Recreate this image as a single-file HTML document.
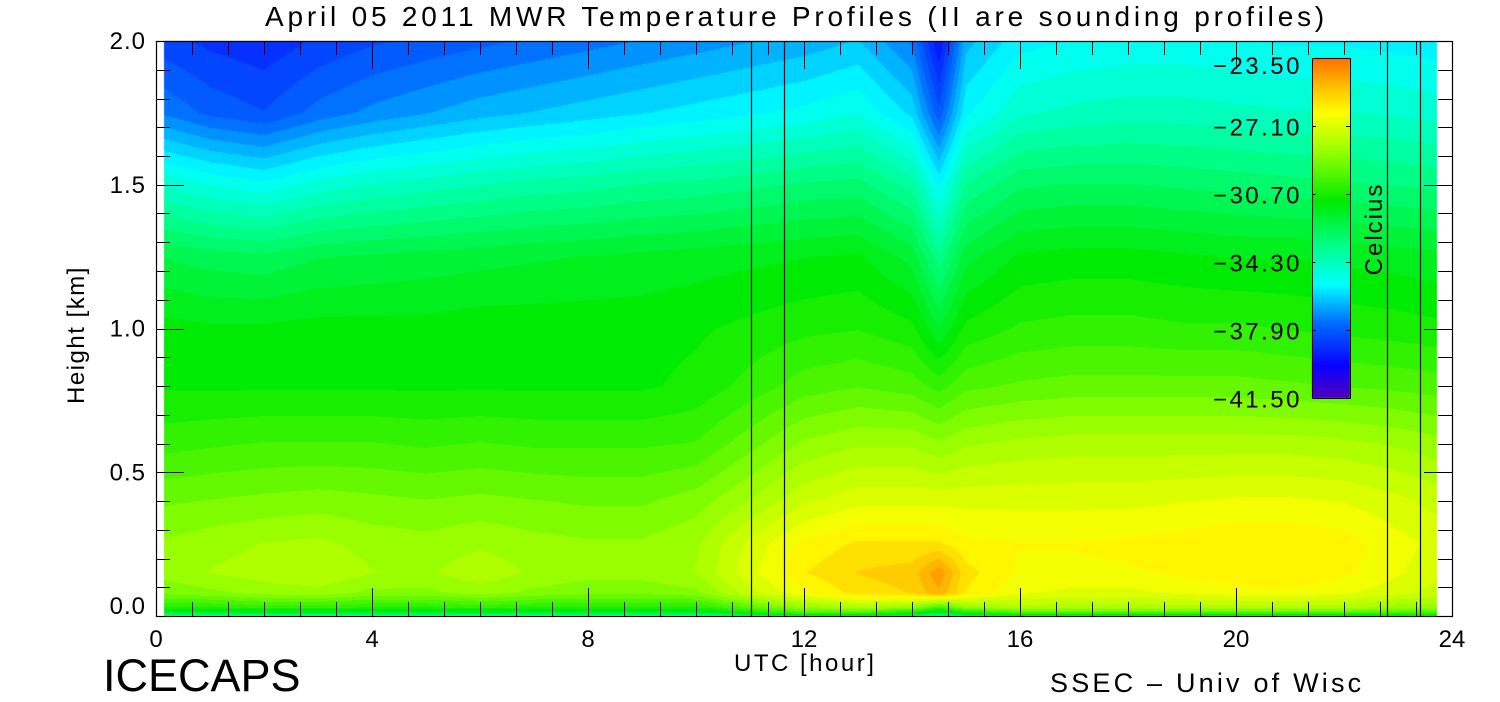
<!DOCTYPE html>
<html><head><meta charset="utf-8"><style>
html,body{margin:0;padding:0;background:#fff;}
body{width:1500px;height:700px;position:relative;overflow:hidden;font-family:"Liberation Sans",sans-serif;color:#000;}
.t{position:absolute;white-space:nowrap;}
</style></head><body>
<canvas id="cv" width="1500" height="700" style="position:absolute;left:0;top:0"></canvas>
<svg id="sv" width="1500" height="700" style="position:absolute;left:0;top:0"></svg>
<div class="t" style="left:265px;top:1px;font-size:28px;letter-spacing:3.8px">April 05 2011 MWR Temperature Profiles (II are sounding profiles)</div>
<div class="t" style="left:103px;top:650px;font-size:45px;font-weight:normal;letter-spacing:0px">ICECAPS</div>
<div class="t" style="left:1050px;top:668px;font-size:27px;letter-spacing:3.2px">SSEC – Univ of Wisc</div>
<div class="t" style="left:734px;top:650px;font-size:24px;letter-spacing:2.5px">UTC [hour]</div>
<div class="t" style="left:17px;top:330px;font-size:24px;letter-spacing:1.5px;transform:rotate(-90deg);transform-origin:center;width:120px;text-align:center">Height [km]</div>
<div class="t" style="left:1325px;top:215px;font-size:24px;letter-spacing:2px;transform:rotate(-90deg);transform-origin:center;width:100px;text-align:center">Celcius</div>
<script>
const times=[0.15,1,2,3,4,5,6,7,8,9,10,11,12,13,14,14.5,15,16,17,18,19,20,21,22,23,23.72];
const heights=[0,0.01,0.03,0.08,0.15,0.25,0.4,0.6,0.8,1.0,1.25,1.5,1.75,2.0];
const temps=[
[-34,-34,-34,-34,-34,-34,-34,-34,-34,-34,-34,-33,-32,-32,-32.5,-34,-32.5,-32,-32,-32,-32,-32,-32,-32,-32,-32],
[-32,-32,-32,-32,-32,-32,-32,-32,-32,-32,-32,-31,-30,-30,-31,-32,-31,-30,-30,-30,-30,-30,-30,-30,-30,-30],
[-30.5,-30.5,-30.3,-30.3,-30.5,-30.5,-30.3,-30.5,-30.5,-30.5,-30.5,-29.5,-28.5,-28,-28.5,-30,-28.5,-28,-28,-28,-28,-28,-28,-28,-28.5,-28.5],
[-29,-28.8,-28.5,-28.4,-28.8,-28.8,-28.5,-28.8,-29,-29,-28.8,-27.5,-26.5,-25.8,-25.5,-24.7,-26,-26.8,-27,-27,-26.8,-26.6,-26.5,-26.8,-27.2,-27.5],
[-28.5,-28.2,-28,-27.8,-28.2,-28.3,-27.9,-28.3,-28.5,-28.5,-28.2,-27,-26,-25.5,-25.3,-24.3,-25.8,-26.5,-26.5,-26.5,-26.3,-26.1,-26,-26.3,-26.8,-27.2],
[-28.6,-28.4,-28.2,-28.1,-28.4,-28.5,-28.3,-28.5,-28.6,-28.6,-28.3,-27.2,-26.3,-25.9,-25.9,-25.9,-26.3,-26.4,-26.4,-26.3,-26.2,-26,-26,-26.2,-26.7,-27],
[-29.2,-29.1,-29,-28.9,-29,-29.1,-29,-29.1,-29.2,-29.2,-28.9,-28.2,-27.4,-27,-27,-27,-27,-27,-27,-27,-26.9,-26.8,-26.8,-26.9,-27.2,-27.5],
[-30.2,-30.1,-30,-30,-30,-30.1,-30,-30.1,-30.1,-30.1,-30,-29.3,-28.6,-28.3,-28.3,-28.6,-28.3,-28.1,-28,-28,-28,-28,-28,-28.1,-28.3,-28.5],
[-31,-31,-31,-31,-31,-31,-31,-31,-31,-31,-30.8,-30.3,-29.8,-29.6,-29.8,-30.2,-29.7,-29.5,-29.4,-29.4,-29.4,-29.4,-29.5,-29.6,-29.7,-29.8],
[-31.2,-31.3,-31.3,-31.2,-31.2,-31.2,-31.1,-31.1,-31.1,-31.1,-31,-30.8,-30.6,-30.5,-30.8,-31.8,-30.8,-30.4,-30.3,-30.3,-30.4,-30.4,-30.5,-30.6,-30.7,-30.8],
[-32.3,-32.5,-32.6,-32.3,-32.2,-32.1,-32,-31.9,-31.8,-31.7,-31.6,-31.5,-31.4,-31.3,-32,-33.5,-32,-31.3,-31.2,-31.2,-31.3,-31.4,-31.4,-31.5,-31.6,-31.7],
[-34.6,-35,-35.3,-34.8,-34.5,-34.3,-34.1,-33.9,-33.8,-33.6,-33.5,-33.3,-33.1,-33,-33.8,-35.5,-33.6,-32.8,-32.7,-32.7,-32.8,-32.9,-33,-33.1,-33.2,-33.3],
[-37.3,-37.8,-38.1,-37.5,-37.1,-36.8,-36.5,-36.3,-36.1,-35.9,-35.7,-35.5,-35.3,-35,-36,-38,-35.5,-34.6,-34.4,-34.3,-34.3,-34.4,-34.5,-34.5,-34.6,-34.7],
[-38.4,-38.7,-38.9,-38.5,-38.2,-38,-37.8,-37.6,-37.4,-37.2,-37,-36.8,-36.6,-36.3,-37.3,-39.5,-36.5,-35.6,-35.4,-35.3,-35.3,-35.4,-35.5,-35.5,-35.6,-35.7]];
const soundings=[11.02,11.63,22.8,23.41];
const xTicks=[0,4,8,12,16,20,24];
const yTicks=[0.0,0.5,1.0,1.5,2.0];
const cbTicks=[-23.5,-27.1,-30.7,-34.3,-37.9,-41.5];
const vmin=-41.5,vmax=-23.5;

const X0=156,X1=1452,Y0=616,Y1=41;
const xs=t=>X0+(X1-X0)*t/24;
const ys=h=>Y0-(Y0-Y1)*h/2;
const CB={x:1312,w:38,top:58,bot:398};
const cbY=v=>CB.bot-(CB.bot-CB.top)*(v-vmin)/(vmax-vmin);

const stops=[[-41.5,[80,0,190]],[-39.8,[10,0,255]],[-37.5,[0,110,255]],[-35.5,[0,255,255]],[-33.5,[0,255,140]],[-31.1,[0,235,0]],[-28.5,[150,255,0]],[-26.4,[255,255,0]],[-25,[255,190,0]],[-23.5,[255,110,0]]];
function cmap(v){
  if(v<=stops[0][0])return stops[0][1];
  for(let i=1;i<stops.length;i++){if(v<=stops[i][0]){const a=stops[i-1],b=stops[i],f=(v-a[0])/(b[0]-a[0]);return a[1].map((c,k)=>Math.round(c+(b[1][k]-c)*f));}}
  return stops[stops.length-1][1];
}
function q(v){const st=(vmax-vmin)/40;return vmin+Math.round((v-vmin)/st)*st;}
function idx(arr,v){let i=0;while(i<arr.length-2&&v>arr[i+1])i++;let f=(v-arr[i])/(arr[i+1]-arr[i]);return [i,Math.max(0,Math.min(1,f))];}
function val(t,h){const [i,fx]=idx(times,t);const [j,fy]=idx(heights,h);
  const a=temps[j][i],b=temps[j][i+1],c=temps[j+1][i],d=temps[j+1][i+1];
  return (a*(1-fx)+b*fx)*(1-fy)+(c*(1-fx)+d*fx)*fy;}

const cv=document.getElementById('cv');const ctx=cv.getContext('2d');
const img=ctx.createImageData(1500,700);
const px0=Math.round(xs(times[0])),px1=Math.round(xs(times[times.length-1]));
for(let py=Y1;py<Y0;py++){const h=(Y0-py-0.5)/(Y0-Y1)*2;
  for(let px=px0;px<px1;px++){const t=(px+0.5-X0)/(X1-X0)*24;
    const c=cmap(q(val(t,h)));const o=(py*1500+px)*4;img.data[o]=c[0];img.data[o+1]=c[1];img.data[o+2]=c[2];img.data[o+3]=255;}}
for(let py=CB.top;py<CB.bot;py++){const v=vmin+(CB.bot-py-0.5)/(CB.bot-CB.top)*(vmax-vmin);const c=cmap(v);
  for(let px=CB.x;px<CB.x+CB.w;px++){const o=(py*1500+px)*4;img.data[o]=c[0];img.data[o+1]=c[1];img.data[o+2]=c[2];img.data[o+3]=255;}}
ctx.putImageData(img,0,0);

const sv=document.getElementById('sv');const NS='http://www.w3.org/2000/svg';
function el(tag,at){const e=document.createElementNS(NS,tag);for(const k in at)e.setAttribute(k,at[k]);sv.appendChild(e);return e;}
soundings.forEach(t=>{const l=el('line',{x1:Math.round(xs(t))+0.5,x2:Math.round(xs(t))+0.5,y1:Y1,y2:Y0,stroke:'#000','stroke-width':1.2});
  
  });
const fr=el('rect',{x:X0+0.5,y:Y1+0.5,width:X1-X0,height:Y0-Y1,fill:'none',stroke:'#000','stroke-width':1.2});


for(let k=0;k<=36;k++){const t=k*2/3;const x=Math.round(xs(t))+0.5;const L=(k%6===0)?28:14;
  el('line',{x1:x,x2:x,y1:Y0,y2:Y0-L,stroke:'#000'});el('line',{x1:x,x2:x,y1:Y1,y2:Y1+L,stroke:'#000'});}
xTicks.forEach(t=>{const tx=el('text',{x:xs(t),y:647,'text-anchor':'middle','font-size':24,'font-family':'Liberation Sans, sans-serif'});tx.textContent=String(t);
  
  });
for(let k=0;k<=20;k++){const h=k*0.1;const y=Math.round(ys(h))+0.5;const L=(k%5===0)?28:14;
  el('line',{x1:X0,x2:X0+L,y1:y,y2:y,stroke:'#000'});el('line',{x1:X1,x2:X1-L,y1:y,y2:y,stroke:'#000'});}
yTicks.forEach(h=>{const tx=el('text',{x:146,y:Math.min(ys(h)+8,614),'text-anchor':'end','font-size':24,'letter-spacing':1,'font-family':'Liberation Sans, sans-serif'});tx.textContent=h.toFixed(1);
  
  });
const cbr=el('rect',{x:CB.x+0.5,y:CB.top+0.5,width:CB.w,height:CB.bot-CB.top,fill:'none',stroke:'#000'});


cbTicks.forEach(v=>{const y=Math.round(cbY(v))+0.5;
  el('line',{x1:CB.x,x2:CB.x+4,y1:y,y2:y,stroke:'#000'});el('line',{x1:CB.x+CB.w,x2:CB.x+CB.w-4,y1:y,y2:y,stroke:'#000'});
  const tx=el('text',{x:1302,y:Math.max(y+9,74),'text-anchor':'end','font-size':24,'letter-spacing':2.5,'font-family':'Liberation Sans, sans-serif'});tx.textContent='\u2212'+Math.abs(v).toFixed(2);
  
  });
</script>
</body></html>
